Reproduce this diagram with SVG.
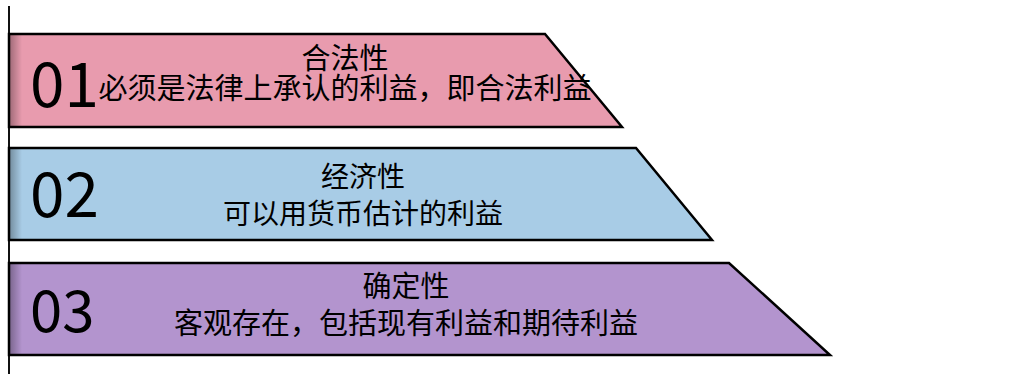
<svg xmlns="http://www.w3.org/2000/svg" width="1025" height="374" viewBox="0 0 1025 374">
<style>
.band{stroke:#000;stroke-width:2.5;stroke-linejoin:miter}
.num{font-family:"Noto Sans CJK SC","Noto Sans",sans-serif;fill:#000}
.t{font-family:"Noto Sans CJK SC","Noto Sans",sans-serif;fill:#000;text-anchor:middle}
</style>
<defs>
<linearGradient id="sh" x1="0" y1="0" x2="1" y2="0">
<stop offset="0" stop-color="#000" stop-opacity="0.3"/>
<stop offset="1" stop-color="#000" stop-opacity="0"/>
</linearGradient>
</defs>
<rect width="1025" height="374" fill="#fff"/>
<line x1="9" y1="6" x2="9" y2="374" stroke="#111" stroke-width="2"/>
<g id="node-01">
<polygon class="band" fill="#E89BAE" points="9,34 545,34 622,127 9,127"/>
<rect x="10" y="35" width="12" height="91" fill="url(#sh)"/>
<text class="num" x="30" y="107" font-size="62">01</text>
<text class="t" x="345" y="69" font-size="29">合法性</text>
<text class="t" x="345" y="99" font-size="29">必须是法律上承认的利益，即合法利益</text>
</g>
<g id="node-02">
<polygon class="band" fill="#A8CCE6" points="9,148 636,148 712,240 9,240"/>
<rect x="10" y="149" width="12" height="90" fill="url(#sh)"/>
<text class="num" x="30" y="217" font-size="62">02</text>
<text class="t" x="363" y="187" font-size="28">经济性</text>
<text class="t" x="363" y="224" font-size="28">可以用货币估计的利益</text>
</g>
<g id="node-03">
<polygon class="band" fill="#B394CE" points="9,263 729,263 830,355 9,355"/>
<rect x="10" y="264" width="12" height="90" fill="url(#sh)"/>
<text class="num" x="30" y="332" font-size="58">03</text>
<text class="t" x="406" y="297" font-size="29">确定性</text>
<text class="t" x="406" y="334" font-size="29">客观存在，包括现有利益和期待利益</text>
</g>
<g id="connectors"></g>
</svg>
